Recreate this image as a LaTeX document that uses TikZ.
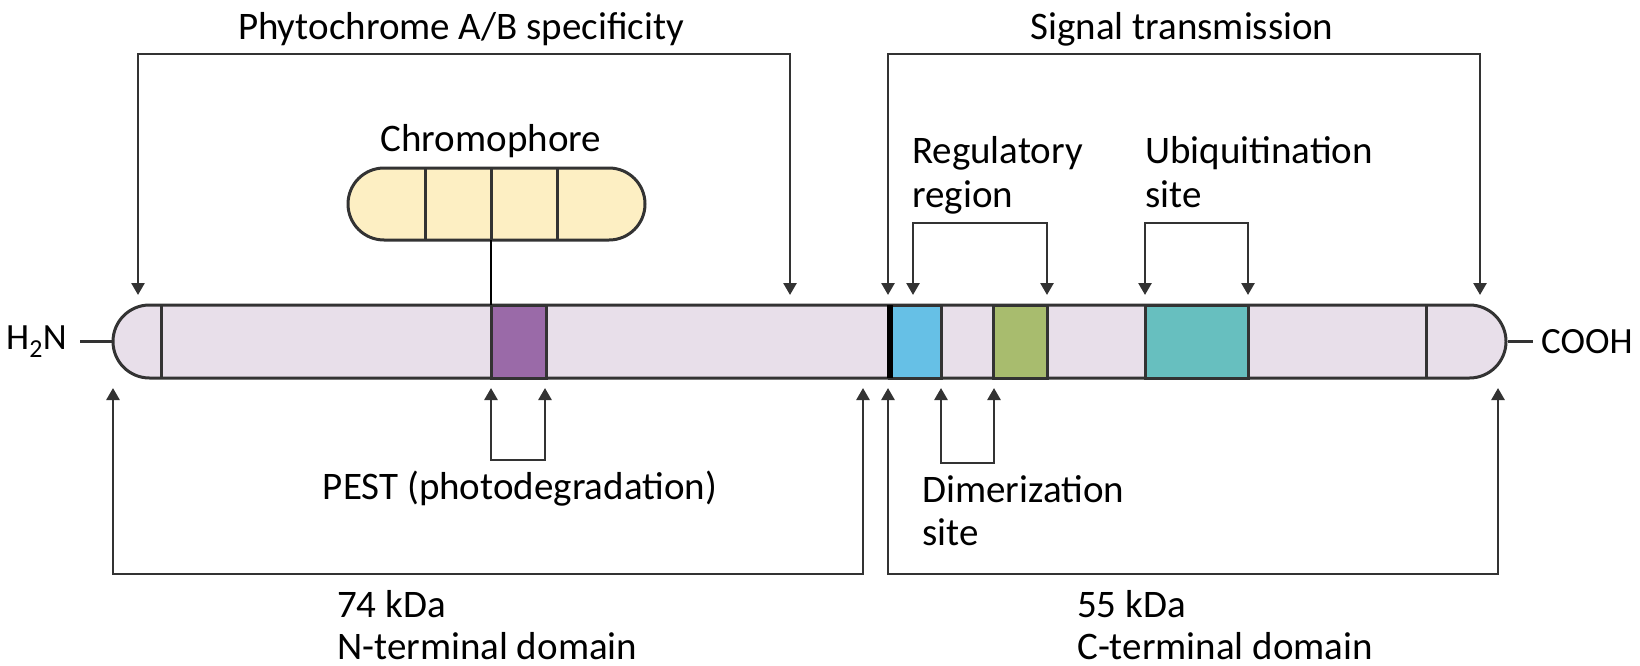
\documentclass[tikz,border=0pt]{standalone}
\usepackage{fontspec}
\setmainfont{Carlito}
\usetikzlibrary{arrows.meta,shapes.misc}
\definecolor{lin}{HTML}{333333}
\definecolor{barfill}{HTML}{E8DFEA}
\definecolor{chromfill}{HTML}{FDEFC3}
\definecolor{purp}{HTML}{9A6AA8}
\definecolor{bluebox}{HTML}{66C0E6}
\definecolor{greenbox}{HTML}{A8BC6E}
\definecolor{tealbox}{HTML}{67BFBF}
\begin{document}
\begin{tikzpicture}[x=1pt,y=-1pt,
  lab/.style={font=\fontsize{39}{46}\selectfont, inner sep=0pt, anchor=base west, text=black},
  labc/.style={font=\fontsize{39}{46}\selectfont, inner sep=0pt, anchor=base, text=black},
  seg/.style={rectangle, draw=lin, line width=3pt, minimum height=73pt, inner sep=0pt},
  divl/.style={draw=lin, line width=3pt},
  conn/.style={draw=lin, line width=2.6pt},
  arr/.style={conn, -{Triangle[width=13pt,length=12pt]}},
  darr/.style={conn, {Triangle[width=13pt,length=12pt]}-{Triangle[width=13pt,length=12pt]}}
]
\useasboundingbox (0,0) rectangle (1640,666);

% main bar
\node[rounded rectangle, draw=lin, fill=barfill, line width=3pt, minimum width=1393pt, minimum height=73pt, inner sep=0pt] (bar) at (809.5,341.5) {};
\node[seg, fill=purp, minimum width=55pt] (pestbox) at (518.5,341.5) {};
\node[seg, fill=bluebox, minimum width=52pt] (regbox) at (915,341.5) {};
\node[seg, fill=greenbox, minimum width=54pt] (dimbox) at (1020,341.5) {};
\node[seg, fill=tealbox, minimum width=103pt] (ubqbox) at (1196.5,341.5) {};
\draw[divl] (161,305) -- (161,378);
\draw[divl] (1426,305) -- (1426,378);
\draw[draw=black, line width=6pt] (890,305) -- (890,378);

% chromophore
\node[rounded rectangle, draw=lin, fill=chromfill, line width=3pt, minimum width=297pt, minimum height=72pt, inner sep=0pt] (chrom) at (496.5,204) {};
\draw[divl] (425,168) -- (425,240);
\draw[divl] (491,168) -- (491,240);
\draw[divl] (557,168) -- (557,240);
\coordinate (pesttop) at (491,305);
\coordinate (chrombot) at (491,240);
\draw[draw=black, line width=2.2pt] (chrombot) -- (pesttop);
\node[labc] (chromlab) at (491,151) {Chromophore};

% termini
\node[font=\fontsize{37}{44}\selectfont, inner sep=0pt, anchor=east] (h2n) at (67,342) {H\textsubscript{2}N};
\draw[conn] (80,341.5) -- (bar.west);
\node[font=\fontsize{37}{44}\selectfont, inner sep=0pt, anchor=west] (cooh) at (1541,342) {COOH};
\draw[conn] (bar.east) -- (1533,341.5);

% top brackets
\coordinate (phA) at (138,295);
\coordinate (phB) at (790,295);
\draw[darr] (phA) -- (138,54) -- (790,54) -- (phB);
\node[labc] (phylab) at (461,40) {Phytochrome A/B specificity};

\coordinate (sgA) at (888,295);
\coordinate (sgB) at (1480,295);
\draw[darr] (sgA) -- (888,54) -- (1480,54) -- (sgB);
\node[labc] (siglab) at (1182,40) {Signal transmission};

\coordinate (rgA) at (913,295);
\coordinate (rgB) at (1047,295);
\draw[darr] (rgA) -- (913,223) -- (1047,223) -- (rgB);
\node[lab] (reg1) at (912,163) {Regulatory};
\node[lab] (reg2) at (912,207) {region};

\coordinate (ubA) at (1145,295);
\coordinate (ubB) at (1248,295);
\draw[darr] (ubA) -- (1145,223) -- (1248,223) -- (ubB);
\node[lab] (ubq1) at (1145,163) {Ubiquitination};
\node[lab] (ubq2) at (1145,207) {site};

% bottom brackets
\coordinate (psA) at (491,388);
\coordinate (psB) at (545,388);
\draw[darr] (psA) -- (491,460) -- (545,460) -- (psB);
\node[labc] (pestlab) at (520,499) {PEST (photodegradation)};

\coordinate (dmA) at (941,388);
\coordinate (dmB) at (994,388);
\draw[darr] (dmA) -- (941,463) -- (994,463) -- (dmB);
\node[lab] (dim1) at (922,502) {Dimerization};
\node[lab] (dim2) at (922,545) {site};

\coordinate (nA) at (113,388);
\coordinate (nB) at (863,388);
\draw[darr] (nA) -- (113,574) -- (863,574) -- (nB);
\node[lab] (n1) at (337,617) {74 kDa};
\node[lab] (n2) at (337,659) {N-terminal domain};

\coordinate (cA) at (888,388);
\coordinate (cB) at (1498,388);
\draw[darr] (cA) -- (888,574) -- (1498,574) -- (cB);
\node[lab] (c1) at (1077,617) {55 kDa};
\node[lab] (c2) at (1077,659) {C-terminal domain};
\end{tikzpicture}
\end{document}
